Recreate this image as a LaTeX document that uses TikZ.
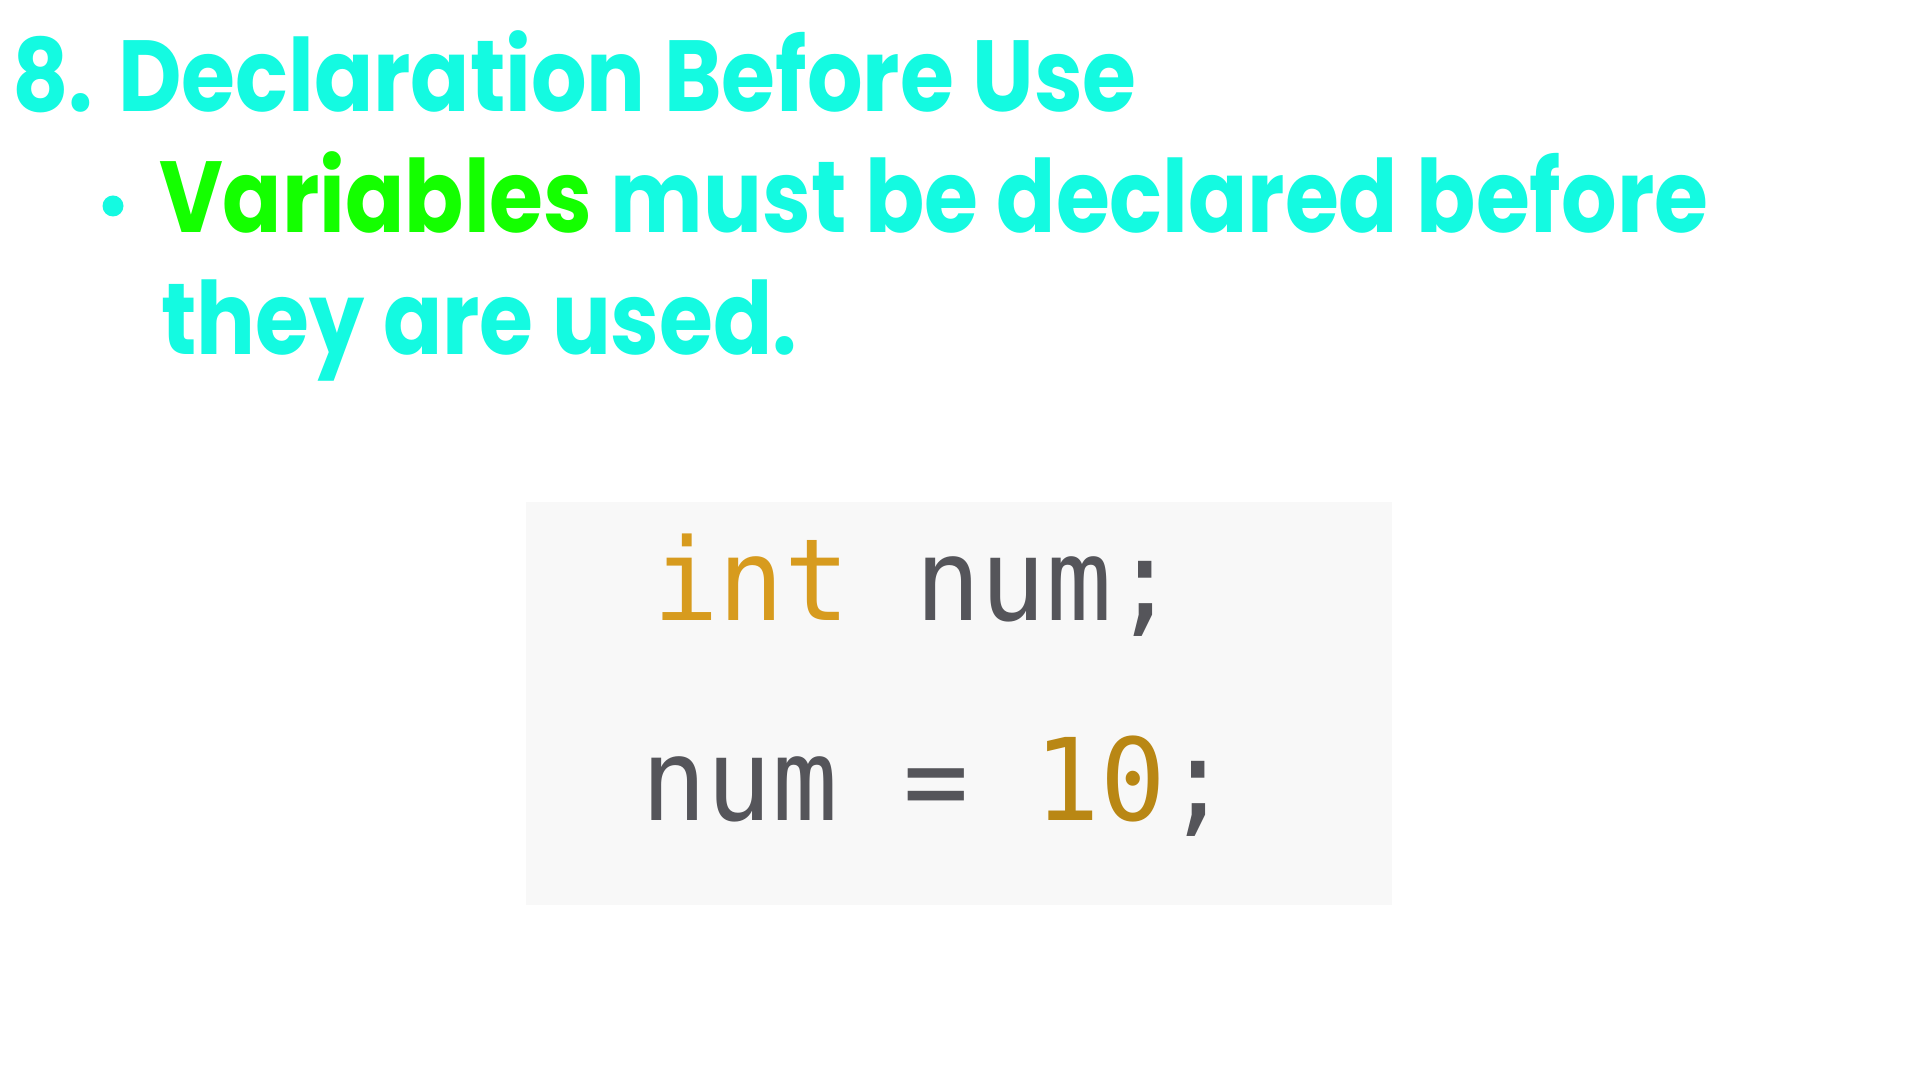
\documentclass[tikz,border=0pt]{standalone}
\usepackage{fontspec}
\setmainfont[FakeStretch=0.865]{Poppins}
\newfontfamily\codefont[FakeStretch=0.955]{DejaVu Sans Mono}
\definecolor{titlecyan}{RGB}{20,250,225}
\definecolor{varsgreen}{RGB}{20,255,0}
\definecolor{keyorange}{RGB}{215,155,30}
\definecolor{numgold}{RGB}{185,135,20}
\definecolor{codegray}{RGB}{85,85,90}
\definecolor{codebg}{RGB}{248,248,248}
\tikzset{every picture/.append style={x=1pt,y=1pt}}
\tikzset{
  headline/.style={anchor=base west, inner sep=0pt, text=titlecyan, font=\fontsize{101}{101}\selectfont\bfseries},
  point/.style={anchor=base west, inner sep=0pt, text=titlecyan, font=\fontsize{101}{101}\selectfont\bfseries},
  codeline/.style={anchor=base west, inner sep=0pt, text=codegray, font=\codefont\fontsize{114}{114}\selectfont}
}

\begin{document}
\begin{tikzpicture}
  \useasboundingbox (0,0) rectangle (1920,1080);
  \fill[white] (0,0) rectangle (1920,1080);
  \node[headline] (title) at (12,968) {8. Declaration Before Use};
  \node[circle, fill=titlecyan, minimum size=21pt, inner sep=0pt] (dot) at (113,874) {};
  \node[point] (rule1) at (159,847) {\textcolor{varsgreen}{Variables} must be declared before};
  \node[point] (rule2) at (161,725) {they are used.};
  \node[fill=codebg, minimum width=866pt, minimum height=403pt, inner sep=0pt] (codebox) at (959,376.5) {};
  \node[codeline] (decl) at (653,459) {\textcolor{keyorange}{int} num;};
  \node[codeline] (assign) at (641,259) {num = \textcolor{numgold}{10};};
\end{tikzpicture}
\end{document}
